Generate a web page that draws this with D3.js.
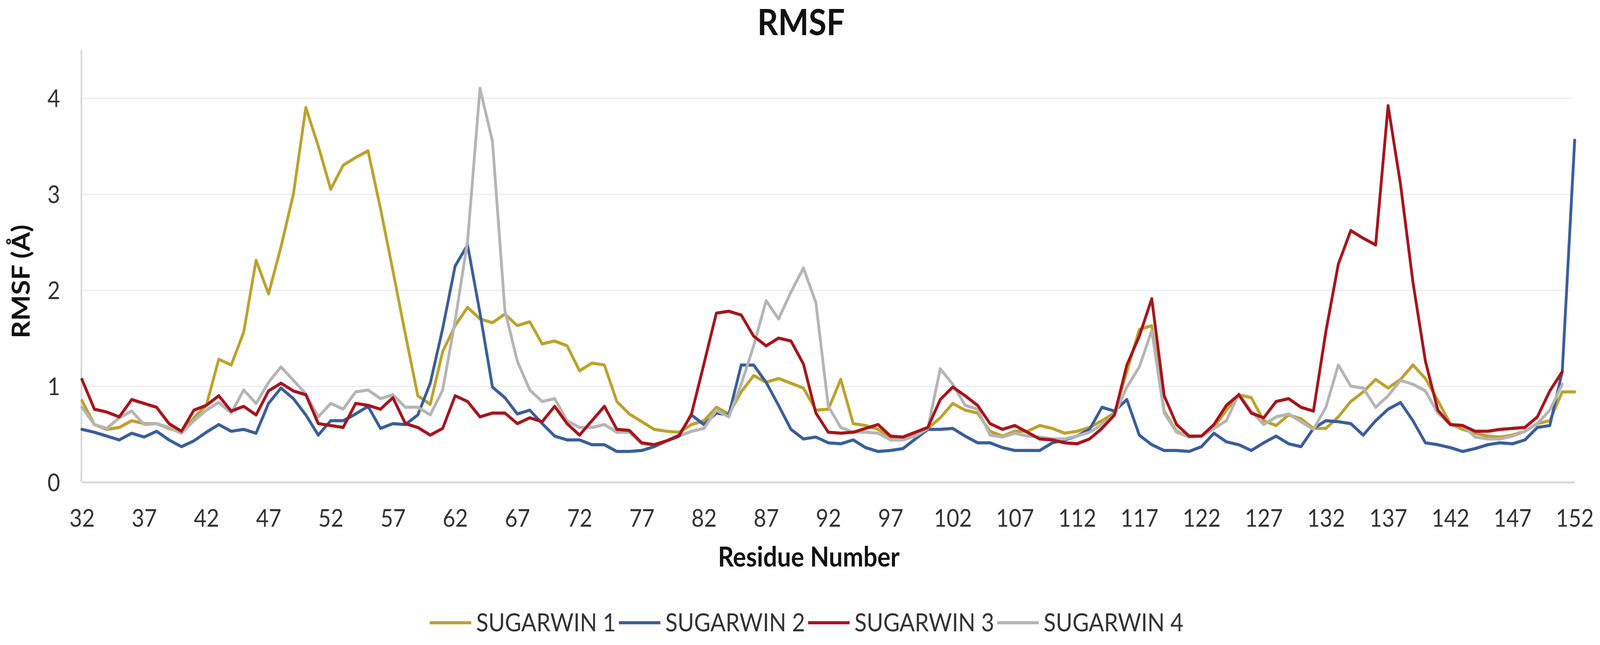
<!DOCTYPE html>
<html>
<head>
<meta charset="utf-8">
<script src="https://cdnjs.cloudflare.com/ajax/libs/d3/7.8.5/d3.min.js"></script>
<style>
    html, body { margin: 0; padding: 0; background: #ffffff; overflow: hidden; }
    #Chart_1 svg { display: block; width: 100vw; height: 100vh; }
    text { font-family: Lato, "Open Sans", sans-serif; }
    .tick_lbl text { font-size: 62px; fill: #333333; }
    .title { font-size: 92px; font-weight: bold; fill: #111111; }
    .axis_title { font-size: 70px; font-weight: bold; fill: #111111; }
    .legend { font-size: 64px; fill: #333333; }
</style>
</head>
<body>
<div id="Chart_1"></div>
<script>
// residue numbers 32..152
let residues = d3.range(32, 153);

let series_names = ["SUGARWIN 1", "SUGARWIN 2", "SUGARWIN 3", "SUGARWIN 4"];
let series_colors = ["#bda22c", "#3a5e9c", "#a8141c", "#b5b5b5"];

let xticks = d3.range(32, 153, 5);
let yticks = [0, 1, 2, 3, 4];

let sugarwin1 = [0.85, 0.60, 0.55, 0.57, 0.64, 0.61, 0.61, 0.56, 0.52, 0.67,
    0.80, 1.28, 1.22, 1.56, 2.31, 1.96, 2.45, 3.00, 3.90, 3.50,
    3.05, 3.30, 3.38, 3.45, 2.85, 2.20, 1.54, 0.90, 0.81, 1.36,
    1.63, 1.82, 1.70, 1.66, 1.75, 1.63, 1.67, 1.44, 1.47, 1.42,
    1.16, 1.24, 1.22, 0.84, 0.71, 0.63, 0.55, 0.53, 0.52, 0.60,
    0.64, 0.78, 0.71, 0.94, 1.11, 1.04, 1.08, 1.03, 0.98, 0.75,
    0.76, 1.07, 0.61, 0.59, 0.55, 0.47, 0.45, 0.49, 0.56, 0.67,
    0.82, 0.75, 0.72, 0.53, 0.48, 0.53, 0.53, 0.59, 0.56, 0.51,
    0.53, 0.57, 0.64, 0.72, 1.15, 1.59, 1.63, 0.74, 0.53, 0.47,
    0.48, 0.57, 0.75, 0.91, 0.88, 0.64, 0.59, 0.70, 0.66, 0.56,
    0.56, 0.68, 0.84, 0.94, 1.07, 0.98, 1.07, 1.22, 1.08, 0.85,
    0.61, 0.55, 0.51, 0.48, 0.47, 0.49, 0.53, 0.61, 0.64, 0.94,
    0.94];

let sugarwin2 = [0.55, 0.52, 0.48, 0.44, 0.51, 0.47, 0.53, 0.44, 0.37, 0.43,
    0.52, 0.60, 0.53, 0.55, 0.51, 0.82, 0.98, 0.87, 0.70, 0.49,
    0.64, 0.64, 0.71, 0.79, 0.56, 0.61, 0.60, 0.70, 1.03, 1.60,
    2.25, 2.47, 1.76, 0.99, 0.88, 0.71, 0.75, 0.61, 0.48, 0.44,
    0.44, 0.39, 0.39, 0.32, 0.32, 0.33, 0.37, 0.43, 0.49, 0.70,
    0.60, 0.72, 0.70, 1.22, 1.22, 1.04, 0.80, 0.55, 0.45, 0.47,
    0.41, 0.40, 0.44, 0.36, 0.32, 0.33, 0.35, 0.45, 0.55, 0.55,
    0.56, 0.48, 0.41, 0.41, 0.36, 0.33, 0.33, 0.33, 0.41, 0.44,
    0.48, 0.55, 0.78, 0.74, 0.86, 0.49, 0.39, 0.33, 0.33, 0.32,
    0.37, 0.51, 0.42, 0.39, 0.33, 0.41, 0.48, 0.40, 0.37, 0.56,
    0.64, 0.63, 0.61, 0.49, 0.64, 0.76, 0.83, 0.64, 0.41, 0.39,
    0.36, 0.32, 0.35, 0.39, 0.41, 0.40, 0.44, 0.57, 0.59, 1.15,
    3.56];

let sugarwin3 = [1.07, 0.76, 0.73, 0.68, 0.86, 0.82, 0.78, 0.61, 0.53, 0.75,
    0.80, 0.90, 0.74, 0.79, 0.70, 0.95, 1.03, 0.95, 0.91, 0.61,
    0.59, 0.57, 0.82, 0.80, 0.76, 0.88, 0.61, 0.57, 0.49, 0.56,
    0.90, 0.84, 0.68, 0.72, 0.72, 0.61, 0.67, 0.63, 0.79, 0.61,
    0.49, 0.64, 0.79, 0.55, 0.54, 0.41, 0.39, 0.43, 0.48, 0.71,
    1.23, 1.76, 1.78, 1.74, 1.52, 1.42, 1.50, 1.47, 1.23, 0.72,
    0.52, 0.51, 0.52, 0.56, 0.60, 0.48, 0.47, 0.52, 0.57, 0.86,
    0.99, 0.90, 0.80, 0.61, 0.55, 0.59, 0.52, 0.45, 0.44, 0.41,
    0.40, 0.45, 0.56, 0.70, 1.22, 1.52, 1.91, 0.90, 0.60, 0.48,
    0.48, 0.60, 0.80, 0.91, 0.72, 0.67, 0.84, 0.87, 0.78, 0.74,
    1.57, 2.27, 2.62, 2.54, 2.47, 3.92, 3.10, 2.08, 1.26, 0.75,
    0.60, 0.59, 0.53, 0.53, 0.55, 0.56, 0.57, 0.68, 0.95, 1.15,
    null];

let sugarwin4 = [0.78, 0.60, 0.56, 0.67, 0.74, 0.60, 0.61, 0.57, 0.51, 0.64,
    0.75, 0.83, 0.72, 0.96, 0.82, 1.04, 1.20, 1.06, 0.92, 0.68,
    0.82, 0.76, 0.94, 0.96, 0.87, 0.91, 0.78, 0.78, 0.70, 0.96,
    1.68, 2.51, 4.10, 3.55, 1.79, 1.26, 0.96, 0.84, 0.87, 0.64,
    0.57, 0.57, 0.60, 0.52, 0.52, 0.40, 0.39, 0.43, 0.48, 0.53,
    0.56, 0.75, 0.68, 1.02, 1.42, 1.89, 1.70, 1.98, 2.23, 1.87,
    0.79, 0.57, 0.52, 0.52, 0.51, 0.44, 0.44, 0.48, 0.56, 1.18,
    1.02, 0.80, 0.76, 0.49, 0.47, 0.51, 0.48, 0.47, 0.45, 0.45,
    0.48, 0.52, 0.60, 0.70, 0.99, 1.20, 1.58, 0.72, 0.52, 0.47,
    0.48, 0.56, 0.64, 0.92, 0.74, 0.60, 0.68, 0.71, 0.63, 0.55,
    0.78, 1.22, 1.00, 0.98, 0.78, 0.90, 1.06, 1.02, 0.95, 0.72,
    0.60, 0.59, 0.47, 0.45, 0.45, 0.48, 0.53, 0.61, 0.75, 1.02,
    null];

let all_series = [sugarwin1, sugarwin2, sugarwin3, sugarwin4];
// drawing order, red ends up on top
let draw_order = [0, 1, 3, 2];

draw_chart();

function draw_chart() {
    let width = 4550,
        height = 1652;

    let plot = {left: 233, right: 4478, top: 128, bottom: 1235};

    // fill the whole window, whatever its real size
    let svg = d3.select("#Chart_1")
        .append("svg")
        .attr("viewBox", "0 0 " + width + " " + height)
        .attr("preserveAspectRatio", "none");

    svg.append("rect")
        .attr("width", width)
        .attr("height", height)
        .attr("fill", "#ffffff");

    let xScale = d3.scaleLinear()
        .domain([32, 152])
        .range([plot.left, plot.right]);

    let yScale = d3.scaleLinear()
        .domain([0, 4.5])
        .range([plot.bottom, plot.top]);

    // gridlines
    let grid = svg.append("g")
        .attr("transform", "translate(" + plot.left + ",0)")
        .call(d3.axisLeft(yScale)
            .tickValues([1, 2, 3, 4])
            .tickSize(-(plot.right - plot.left - 8))
            .tickFormat(""));
    grid.select(".domain").remove();
    grid.selectAll("line")
        .attr("stroke", "#ececec")
        .attr("stroke-width", 3);

    // x axis
    let xAxis = svg.append("g")
        .attr("class", "tick_lbl")
        .attr("transform", "translate(0," + plot.bottom + ")")
        .call(d3.axisBottom(xScale)
            .tickValues(xticks)
            .tickSize(0)
            .tickSizeOuter(0)
            .tickPadding(70)
            .tickFormat(d3.format("d")));
    xAxis.select(".domain")
        .attr("stroke", "#d9d9d9")
        .attr("stroke-width", 5);
    xAxis.selectAll("text")
        .attr("font-family", null)
        .attr("font-size", null);

    // y axis
    let yAxis = svg.append("g")
        .attr("class", "tick_lbl")
        .attr("transform", "translate(" + (plot.left - 2) + ",0)")
        .call(d3.axisLeft(yScale)
            .tickValues(yticks)
            .tickSize(0)
            .tickSizeOuter(0)
            .tickPadding(60)
            .tickFormat(d3.format("d")));
    yAxis.select(".domain")
        .attr("stroke", "#d9d9d9")
        .attr("stroke-width", 5);
    yAxis.selectAll("text")
        .attr("font-family", null)
        .attr("font-size", null)
        .attr("dy", "0.36em");

    // lines
    let line = d3.line()
        .defined((d) => d != null)
        .x((d, i) => xScale(residues[i]))
        .y((d) => yScale(d));

    draw_order.forEach(function (k) {
        svg.append("path")
            .datum(all_series[k])
            .attr("fill", "none")
            .attr("stroke", series_colors[k])
            .attr("stroke-width", 8)
            .attr("stroke-linejoin", "round")
            .attr("stroke-linecap", "round")
            .attr("d", line);
    });

    // titles
    svg.append("text")
        .attr("class", "title")
        .attr("x", 2278)
        .attr("y", 90)
        .attr("text-anchor", "middle")
        .text("RMSF");

    svg.append("text")
        .attr("class", "axis_title")
        .attr("x", 2300)
        .attr("y", 1451)
        .attr("text-anchor", "middle")
        .text("Residue Number");

    svg.append("text")
        .attr("class", "axis_title")
        .attr("transform", "translate(84,721) rotate(-90)")
        .attr("text-anchor", "middle")
        .text("RMSF (Å)");

    // legend
    let legendScale = d3.scalePoint()
        .domain(series_names)
        .range([1222, 1222 + 3 * 538]);

    let legend = svg.selectAll(".legend_item")
        .data(series_names)
        .enter()
        .append("g")
        .attr("class", "legend_item")
        .attr("transform", (d) => "translate(" + legendScale(d) + ",1595)");

    legend.append("line")
        .attr("x1", 0)
        .attr("x2", 118)
        .attr("y1", 0)
        .attr("y2", 0)
        .attr("stroke", (d, i) => series_colors[i])
        .attr("stroke-width", 8);

    legend.append("text")
        .attr("class", "legend")
        .attr("x", 132)
        .attr("y", 22)
        .text((d) => d);
}
</script>
</body>
</html>
